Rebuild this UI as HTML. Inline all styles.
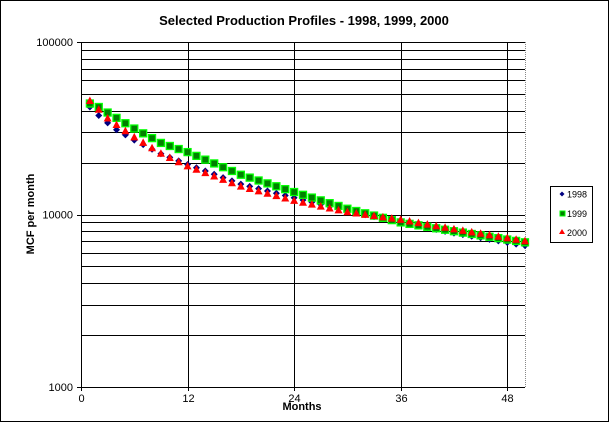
<!DOCTYPE html>
<html><head><meta charset="utf-8"><style>
html,body{margin:0;padding:0;background:#fff}
svg{display:block}
text{font-family:"Liberation Sans",Arial,sans-serif}
</style></head><body>
<svg id="s" width="609" height="422" xmlns="http://www.w3.org/2000/svg">
<rect x="0.5" y="0.5" width="608" height="421" fill="#fff" stroke="#000"/>
<text x="304" y="25" font-size="13" font-weight="bold" text-anchor="middle">Selected Production  Profiles - 1998, 1999,  2000</text>
<g id="grid"></g>
<g id="pts"></g>
<text x="34" y="214" font-size="11" font-weight="bold" text-anchor="middle" transform="rotate(-90 34 214)">MCF per month</text>
<text x="302" y="410" font-size="11" font-weight="bold" text-anchor="middle">Months</text>
<rect x="550.5" y="186.5" width="42" height="56" fill="#fff" stroke="#000"/>
<path d="M192 193l3 3-3 3-3-3z" transform="translate(-0,0)" fill="none"/>
<path d="M562 191.5l2.5 2.5-2.5 2.5-2.5-2.5z" fill="#000080"/>
<text x="567" y="197.5" font-size="9">1998</text>
<rect x="560" y="211" width="5" height="5" fill="#008000" stroke="#00ff00"/>
<text x="567" y="217" font-size="9">1999</text>
<path d="M562 229l3 5h-6z" fill="#ff0000"/>
<text x="567" y="236" font-size="9">2000</text>
</svg>
<script>
var NS="http://www.w3.org/2000/svg",g=document.getElementById("grid"),p=document.getElementById("pts");
function X(m){return 81+m*8.88}
function Y(v){return 42+(5-Math.log10(v))*172.5}
function el(par,t,a){var e=document.createElementNS(NS,t);for(var k in a)e.setAttribute(k,a[k]);par.appendChild(e);return e}
var L=81,R=525,T=42,B=387;
el(g,"line",{x1:R+.5,y1:T,x2:R+.5,y2:B,stroke:"#888","stroke-dasharray":"1,1"});
for(var d=3;d<=4;d++)for(var k=1;k<=9;k++){var y=Math.round(Y(k*Math.pow(10,d)))+.5;el(g,"line",{x1:L,y1:y,x2:R,y2:y,stroke:"#000"});}
el(g,"line",{x1:L,y1:T+.5,x2:R,y2:T+.5,stroke:"#000"});
[12,24,36,48].forEach(function(m){var x=Math.round(X(m))+.5;el(g,"line",{x1:x,y1:T,x2:x,y2:B,stroke:"#000"});});
el(g,"line",{x1:L+.5,y1:T,x2:L+.5,y2:B+4,stroke:"#000"});
el(g,"line",{x1:L-4,y1:B+.5,x2:R,y2:B+.5,stroke:"#000"});
[[100000,T],[10000,Y(1e4)],[1000,B]].forEach(function(a){var t=el(g,"text",{x:73,y:a[1]+4,"font-size":"11","text-anchor":"end"});t.textContent=a[0];el(g,"line",{x1:L-4,y1:Math.round(a[1])+.5,x2:L,y2:Math.round(a[1])+.5,stroke:"#000"});});
[0,12,24,36,48].forEach(function(m){var x=Math.round(X(m))+.5;var t=el(g,"text",{x:x,y:402,"font-size":"11","text-anchor":"middle"});t.textContent=m;el(g,"line",{x1:x,y1:B,x2:x,y2:B+4,stroke:"#000"});});
function interp(a,m){for(var i=0;i<a.length-1;i++){if(m<=a[i+1][0]){var f=(m-a[i][0])/(a[i+1][0]-a[i][0]);return Math.pow(10,Math.log10(a[i][1])*(1-f)+Math.log10(a[i+1][1])*f);}}return a[a.length-1][1]}
var s98=[[1,42000],[2,37500],[3,34000],[4,31000],[6,27000],[9,22500],[12,19500],[18,15000],[24,12500],[30,10500],[36,9000],[42,7800],[50,6600]];
var s99=[[1,44000],[2,42000],[3,39000],[6,31500],[9,26000],[12,23000],[18,17000],[24,13500],[30,10800],[36,9000],[42,8000],[50,6900]];
var s00=[[1,45500],[2,40500],[3,36000],[4,33000],[6,28000],[9,22500],[12,19000],[18,14500],[24,12000],[30,10300],[36,9300],[42,8200],[50,7000]];
for(var m=1;m<=50;m++){var x=X(m),y=Y(interp(s98,m));el(p,"path",{d:"M"+x+" "+(y-3.5)+"l3.5 3.5-3.5 3.5-3.5-3.5z",fill:"#000080"});}
for(var m=1;m<=50;m++){var x=X(m),y=Y(interp(s99,m));el(p,"rect",{x:x-3.5,y:y-3.5,width:7,height:7,fill:"#008000",stroke:"#00ff00","stroke-width":"1.3"});}
for(var m=1;m<=50;m++){var x=X(m),y=Y(interp(s00,m));el(p,"path",{d:"M"+x+" "+(y-4.5)+"l4 7.5h-8z",fill:"#ff0000"});}
</script>
</body></html>
